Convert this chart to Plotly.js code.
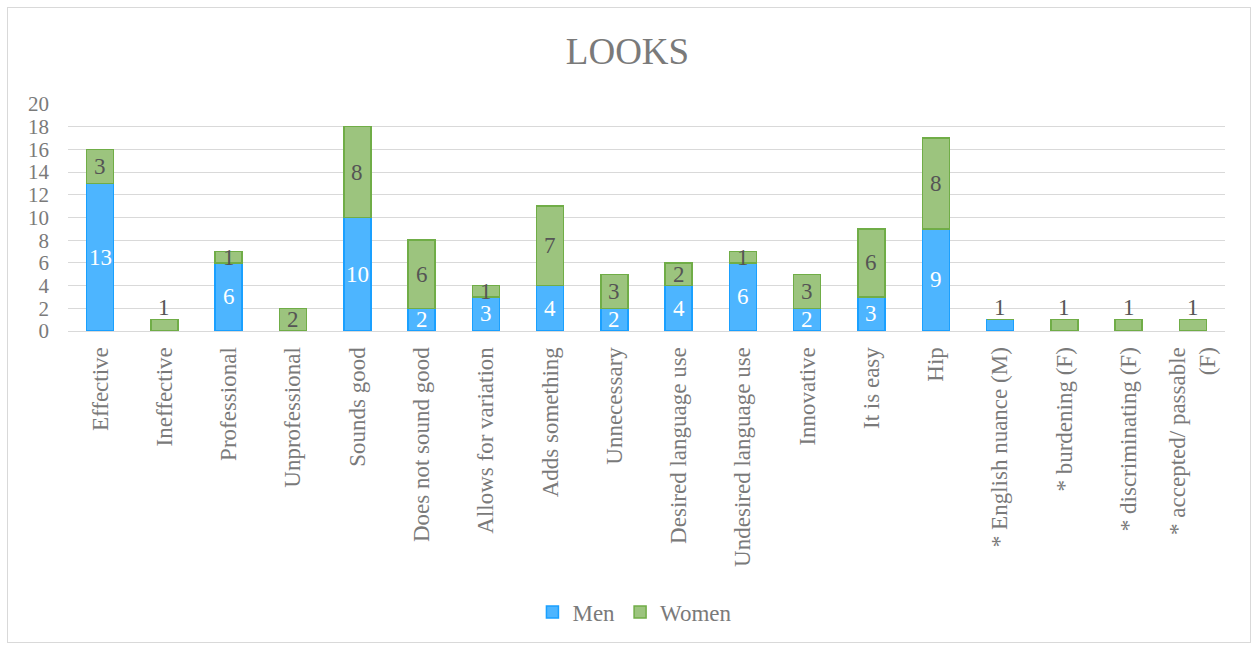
<!DOCTYPE html>
<html><head><meta charset="utf-8">
<script src="https://cdn.plot.ly/plotly-3.0.1.min.js"></script>
<style>
html,body{margin:0;padding:0;background:#fff;}
#wrap{position:relative;width:1255px;height:648px;}
#frame{position:absolute;left:7px;top:7px;width:1242px;height:634px;border:1px solid #d9d9d9;pointer-events:none;}
</style></head>
<body><div id="wrap"><div id="chart" style="width:1255px;height:648px;"></div><div id="frame"></div></div>
<script>
const categories = ["Effective","Ineffective","Professional","Unprofessional","Sounds good","Does not sound good","Allows for variation","Adds something","Unnecessary","Desired language use","Undesired language use","Innovative","It is easy","Hip","* English nuance (M)","* burdening (F)","* discriminating (F)","* accepted/ passable<br>(F)"];
const men   = [13,0,6,0,10,2,3,4,2,4,6,2,3,9,1,0,0,0];
const women = [3,1,1,2,8,6,1,7,3,2,1,3,6,8,0,1,1,1];
const yTicks = [0,2,4,6,8,10,12,14,16,18,20];

const font = "Liberation Serif, Times New Roman, serif";
const textGray = '#7a7a7a';
const traces = [
  {type:'bar', name:'Men', x:categories, y:men,
   marker:{color:'#4DB5FF', line:{color:'#1AA0FF', width:1.5}}, hoverinfo:'y'},
  {type:'bar', name:'Women', x:categories, y:women,
   marker:{color:'#9CC47E', line:{color:'#70AD47', width:1.5}}, hoverinfo:'y'}
];

const annotations = [];
categories.forEach((c,i)=>{
  const m = men[i], w = women[i];
  const total = m + w;
  if (total === 1) {
    annotations.push({x:c, y:total, xref:'x', yref:'y', text:String(total), showarrow:false,
      yanchor:'bottom', yshift:-2, font:{family:font, size:23, color:'#555555'}});
    return;
  }
  if (m > 0) annotations.push({x:c, y:m/2, xref:'x', yref:'y', text:String(m), showarrow:false,
      yanchor:'middle', font:{family:font, size:23, color:'#ffffff'}});
  if (w > 0) annotations.push({x:c, y:m + w/2, xref:'x', yref:'y', text:String(w), showarrow:false,
      yanchor:'middle', font:{family:font, size:23, color:'#555555'}});
});

const layout = {
  width:1255, height:648,
  margin:{l:68, r:30, t:104, b:317},
  paper_bgcolor:'#ffffff', plot_bgcolor:'#ffffff',
  barmode:'stack', bargap:0.58,
  font:{family:font, color:textGray, size:21},
  title:{text:'LOOKS', x:0.5, xanchor:'center', y:0.921, yanchor:'middle',
         font:{family:font, size:37, color:textGray}},
  xaxis:{type:'category', tickangle:-90, tickfont:{family:font, size:23, color:textGray},
         showgrid:false, showline:true, linecolor:'#d9d9d9', linewidth:1, ticks:'', automargin:false,
         ticklabelstandoff:6},
  yaxis:{range:[0,20], tickvals:yTicks, ticktext:yTicks.map(String),
         tickfont:{family:font, size:21, color:textGray}, showgrid:true, gridcolor:'#d9d9d9', gridwidth:1,
         zeroline:false, showline:false, ticks:'', automargin:false, ticklabelstandoff:18},
  showlegend:true,
  legend:{orientation:'h', x:0.49, xanchor:'center', y:-1.238, yanchor:'middle',
          font:{family:font, size:23, color:textGray}, itemwidth:30, traceorder:'normal'},
  annotations:annotations
};
Plotly.newPlot('chart', traces, layout, {displayModeBar:false, staticPlot:true});
</script></body></html>
